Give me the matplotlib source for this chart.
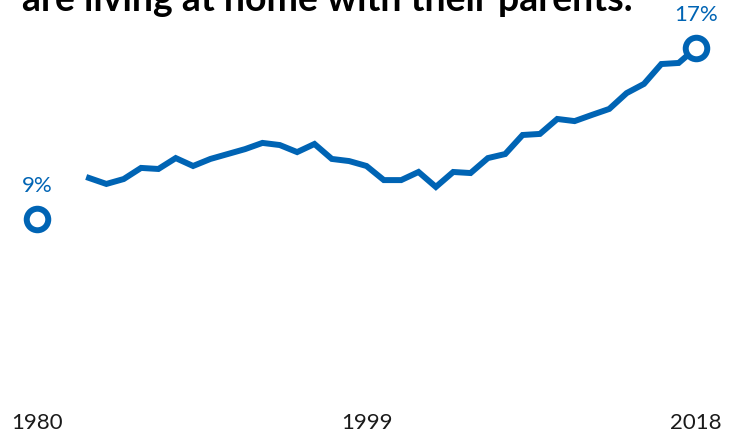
import matplotlib
matplotlib.use("Agg")
import matplotlib.pyplot as plt

plt.rcParams['font.family'] = ['Lato', 'DejaVu Sans']

title = "are living at home with their parents."
years = list(range(1983, 2019))
share = [10.92, 10.64, 10.87, 11.39, 11.34, 11.85, 11.48, 11.81, 12.04, 12.27,
         12.56, 12.46, 12.13, 12.51, 11.81, 11.71, 11.48, 10.82, 10.82, 11.20,
         10.50, 11.20, 11.15, 11.85, 12.04, 12.93, 12.98, 13.68, 13.58, 13.87,
         14.15, 14.89, 15.32, 16.25, 16.30, 17.0]
end_years = [1980, 2018]
end_vals = [9, 17]
end_labels = ["9%", "17%"]
tick_years = [1980, 1999, 2018]

blue = "#0064b4"

fig = plt.figure(figsize=(7.34, 4.34), dpi=100)
ax = fig.add_axes([0, 29 / 434, 1, 1 - 29 / 434])

ax.plot(years, share, color=blue, lw=4.3, solid_joinstyle='miter', zorder=2)
ax.plot(end_years, end_vals, ls='none', marker='o', ms=15.5, mew=4.3,
        mec=blue, mfc='white', zorder=3)
for x, v, s in zip(end_years, end_vals, end_labels):
    ax.annotate(s, (x, v), xytext=(0, 24), textcoords='offset points',
                ha='center', va='center', color=blue, fontsize=16)

ax.set_xlim(1980 - 37 / 17.342, 2018 + 38 / 17.342)
ax.set_ylim(9 - 186 / 21.375, 9 + 219 / 21.375)
ax.set_xticks(tick_years)
ax.set_xticklabels([str(t) for t in tick_years], fontsize=16, color='#1a1a1a')
ax.tick_params(axis='x', length=0, pad=6)
ax.set_yticks([])
for sp in ax.spines.values():
    sp.set_visible(False)
ax.patch.set_alpha(0)

fig.text(22 / 734, 1 - 11 / 434, title, fontsize=27, fontweight='bold',
         color='black', va='baseline', ha='left')

fig.savefig("out.png", dpi=100)
